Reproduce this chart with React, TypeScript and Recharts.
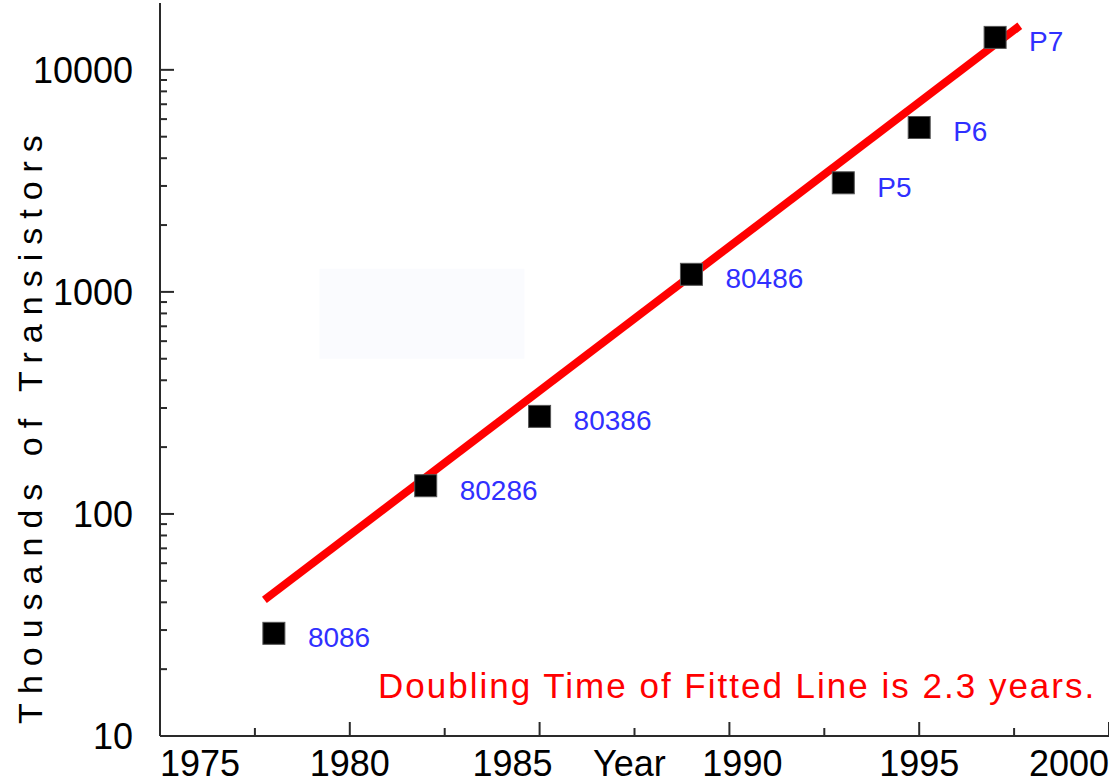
import { ComposedChart, Scatter, Line, XAxis, YAxis, ReferenceArea } from 'recharts'

// processors: year of introduction and transistor count (thousands)
const chipNames = ['8086', '80286', '80386', '80486', 'P5', 'P6', 'P7']
const chipYears = [1978, 1982, 1985, 1989, 1993, 1995, 1997]
const chipTransistors = [29, 134, 275, 1200, 3100, 5500, 14000]

// end points of the fitted exponential
const fitYears = [1977.75, 1997.65]
const fitTransistors = [41, 15800]

const yearTicks = [1975, 1977.5, 1980, 1982.5, 1985, 1987.5, 1990, 1992.5, 1995, 1997.5, 2000]
const majorYears = [1975, 1980, 1985, 1990, 1995, 2000]
const countTicks = [
  10, 20, 30, 40, 50, 60, 70, 80, 90,
  100, 200, 300, 400, 500, 600, 700, 800, 900,
  1000, 2000, 3000, 4000, 5000, 6000, 7000, 8000, 9000,
  10000,
]
const decadeTicks = [10, 100, 1000, 10000]

const W = 1109
const H = 784
const FONT = '"Liberation Sans", Arial, Helvetica, sans-serif'
const AXIS = '#2a2a2a'

const chips = chipNames.map((name, i) => ({ name, year: chipYears[i], value: chipTransistors[i] }))
const fit = fitYears.map((year, i) => ({ year, value: fitTransistors[i] }))

function ChipMarker(props: any) {
  const { cx, cy, payload } = props
  if (cx == null || cy == null) return null
  return (
    <g>
      <rect x={cx - 11} y={cy - 11} width={22} height={22} fill="#000" stroke="#555" strokeWidth={1} />
      <text x={cx + 34} y={cy + 14} fill="#3030ff" fontSize={28} fontFamily={FONT}>
        {payload.name}
      </text>
    </g>
  )
}

function BottomTick({ x, y, payload }: any) {
  const v = payload.value
  const major = majorYears.includes(v)
  const len = major ? 14 : 8
  let anchor: 'start' | 'middle' | 'end' = 'middle'
  let dx = 0
  if (v === 1975) anchor = 'start'
  else if (v === 2000) anchor = 'end'
  else if (v === 1985) dx = -27
  else if (v === 1990) dx = 13
  return (
    <g>
      <line x1={x} x2={x} y1={y} y2={y - len} stroke={AXIS} strokeWidth={2} />
      {major && (
        <text x={x + dx} y={y + 40} textAnchor={anchor} fill="#000" fontSize={36} fontFamily={FONT}>
          {v}
        </text>
      )}
    </g>
  )
}

function TopTick({ x, y, payload }: any) {
  const len = majorYears.includes(payload.value) ? 14 : 8
  return <line x1={x} x2={x} y1={y} y2={y + len} stroke={AXIS} strokeWidth={2} />
}

function LeftTick({ x, y, payload }: any) {
  const v = payload.value
  const major = decadeTicks.includes(v)
  const len = major ? 14 : 7
  return (
    <g>
      <line x1={x} x2={x + len} y1={y} y2={y} stroke={AXIS} strokeWidth={2} />
      {major && (
        <text x={x - 27} y={y + 13} textAnchor="end" fill="#000" fontSize={36} fontFamily={FONT}>
          {v}
        </text>
      )}
    </g>
  )
}

function RightTick({ x, y, payload }: any) {
  const len = decadeTicks.includes(payload.value) ? 14 : 7
  return <line x1={x} x2={x - len} y1={y} y2={y} stroke={AXIS} strokeWidth={2} />
}

export default function App() {
  return (
    <div style={{ position: 'absolute', left: 0, top: 0, width: W, height: H, background: '#fff' }}>
      <ComposedChart width={W} height={H} margin={{ top: 3, right: 0, bottom: 0, left: 0 }}>
        <XAxis
          dataKey="year"
          type="number"
          domain={[1975, 2000]}
          allowDataOverflow
          ticks={yearTicks}
          interval={0}
          height={48}
          tickSize={0}
          tickMargin={0}
          tickLine={false}
          axisLine={{ stroke: AXIS, strokeWidth: 2 }}
          tick={<BottomTick />}
        />
        <XAxis
          xAxisId="t"
          orientation="top"
          dataKey="year"
          type="number"
          domain={[1975, 2000]}
          allowDataOverflow
          ticks={yearTicks}
          interval={0}
          height={0}
          tickSize={0}
          tickMargin={0}
          tickLine={false}
          axisLine={{ stroke: AXIS, strokeWidth: 2 }}
          tick={<TopTick />}
        />
        <YAxis
          type="number"
          scale="log"
          domain={[10, 20000]}
          allowDataOverflow
          ticks={countTicks}
          interval={0}
          width={160}
          tickSize={0}
          tickMargin={0}
          tickLine={false}
          axisLine={{ stroke: AXIS, strokeWidth: 2 }}
          tick={<LeftTick />}
        />
        <YAxis
          yAxisId="r"
          orientation="right"
          type="number"
          scale="log"
          domain={[10, 20000]}
          allowDataOverflow
          ticks={countTicks}
          interval={0}
          width={0}
          tickSize={0}
          tickMargin={0}
          tickLine={false}
          axisLine={false}
          tick={<RightTick />}
        />
        <ReferenceArea x1={1979.2} x2={1984.6} y1={500} y2={1270} fill="#fafbfe" fillOpacity={1} stroke="none" />
        <Line
          data={fit}
          dataKey="value"
          stroke="#ff0000"
          strokeWidth={8}
          dot={false}
          activeDot={false}
          isAnimationActive={false}
        />
        <Scatter data={chips} dataKey="value" shape={<ChipMarker />} isAnimationActive={false} />
      </ComposedChart>
      <svg width={W} height={H} style={{ position: 'absolute', left: 0, top: 0, pointerEvents: 'none' }}>
        <text
          x={42}
          y={425}
          transform="rotate(-90 42 425)"
          textAnchor="middle"
          fontSize={34}
          letterSpacing={9}
          fill="#000"
          fontFamily={FONT}
        >
          Thousands of Transistors
        </text>
        <text x={378} y={698} fontSize={35} letterSpacing={2} fill="#ff0000" fontFamily={FONT}>
          Doubling Time of Fitted Line is 2.3 years.
        </text>
        <text x={593} y={776} fontSize={36} fill="#000" fontFamily={FONT}>
          Year
        </text>
      </svg>
    </div>
  )
}
